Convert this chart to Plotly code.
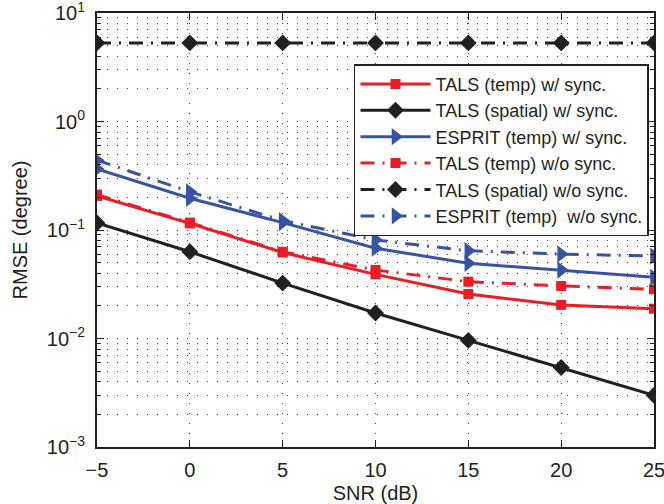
import plotly.graph_objects as go

snr = [-5, 0, 5, 10, 15, 20, 25]
tals_temp_sync = [0.206, 0.115, 0.062, 0.039, 0.0257, 0.0204, 0.0188]
tals_spatial_sync = [0.116, 0.063, 0.0324, 0.0172, 0.0096, 0.0054, 0.0030]
esprit_temp_sync = [0.365, 0.196, 0.117, 0.068, 0.0493, 0.0428, 0.0366]
tals_temp_nosync = [0.212, 0.117, 0.063, 0.0428, 0.0334, 0.0305, 0.0284]
tals_spatial_nosync = [5.3, 5.3, 5.3, 5.3, 5.3, 5.3, 5.3]
esprit_temp_nosync = [0.44, 0.225, 0.122, 0.081, 0.0644, 0.060, 0.0575]

names = ["TALS (temp) w/ sync.", "TALS (spatial) w/ sync.", "ESPRIT (temp) w/ sync.",
         "TALS (temp) w/o sync.", "TALS (spatial) w/o sync.", "ESPRIT (temp)  w/o sync."]

x_ticks = [-5, 0, 5, 10, 15, 20, 25]
y_tickvals = [1e-3, 1e-2, 1e-1, 1e0, 1e1]
y_ticktext = ["10<sup>−3</sup>", "10<sup>−2</sup>", "10<sup>−1</sup>", "10<sup>0</sup>", "10<sup>1</sup>"]

RED = "#ED1C24"
BLACK = "#231F20"
BLUE = "#3953A4"
DASHDOT = "14px,8px,2px,8px"
GRIDDASH = "1px,9px"
GRIDCOL = "#444444"

series = [
    (tals_temp_sync, RED, "solid", "square", 10),
    (tals_spatial_sync, BLACK, "solid", "diamond", 13),
    (esprit_temp_sync, BLUE, "solid", "triangle-right", 15),
    (tals_temp_nosync, RED, DASHDOT, "square", 10),
    (tals_spatial_nosync, BLACK, DASHDOT, "diamond", 13),
    (esprit_temp_nosync, BLUE, DASHDOT, "triangle-right", 15),
]

fig = go.Figure()
for i, (ys, col, dash, sym, sz) in enumerate(series):
    fig.add_trace(go.Scatter(
        x=snr, y=ys, name=names[i], mode="lines+markers",
        line=dict(color=col, width=3, dash=dash),
        marker=dict(symbol=sym, size=sz, color=col, line=dict(width=0)),
        legendrank=i + 1,
    ))

font = "Liberation Sans, Arial, Helvetica, sans-serif"
fig.update_layout(
    width=664, height=504,
    margin=dict(l=97, r=10, t=13, b=57),
    paper_bgcolor="white", plot_bgcolor="white",
    font=dict(family=font, size=20, color="#231F20"),
    legend=dict(
        x=0.991, y=0.882, xanchor="right", yanchor="top",
        bgcolor="white", bordercolor="#231F20", borderwidth=1.5,
        font=dict(size=18, family=font),
        itemwidth=70, tracegroupgap=0,
    ),
    showlegend=True,
)
fig.update_xaxes(
    range=[-5, 25], tickvals=x_ticks, automargin=False,
    ticks="inside", ticklen=7, tickwidth=1, tickcolor="#231F20",
    showline=True, linecolor="#231F20", linewidth=2, mirror="ticks",
    showgrid=True, gridcolor=GRIDCOL, gridwidth=1, griddash=GRIDDASH,
    zeroline=False, ticklabelstandoff=4, ticklabeloverflow="allow",
    title=dict(text="SNR (dB)", font=dict(size=20), standoff=6),
    tickfont=dict(size=20),
)
fig.update_yaxes(
    type="log", range=[-3, 1], tickvals=y_tickvals, ticktext=y_ticktext,
    automargin=False, ticklabeloverflow="allow", ticklabelstandoff=6,
    ticks="inside", ticklen=7, tickwidth=1, tickcolor="#231F20",
    showline=True, linecolor="#231F20", linewidth=2, mirror="ticks",
    showgrid=True, gridcolor=GRIDCOL, gridwidth=1, griddash=GRIDDASH,
    minor=dict(ticks="inside", ticklen=4, tickcolor="#231F20", showgrid=True,
               gridcolor=GRIDCOL, gridwidth=1, griddash=GRIDDASH,
               tickvals=[m * 10 ** e for e in range(-3, 1) for m in range(2, 10)]),
    zeroline=False,
    title=dict(text="RMSE (degree)", font=dict(size=20), standoff=14),
    tickfont=dict(size=20),
)

fig.write_html("out.html")
